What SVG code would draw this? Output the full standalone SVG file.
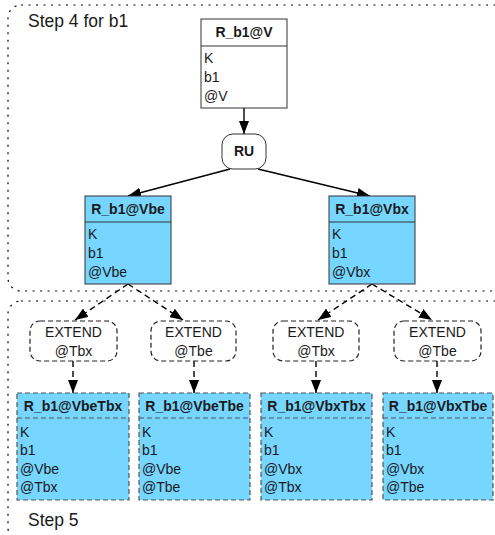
<svg xmlns="http://www.w3.org/2000/svg" width="495" height="535" viewBox="0 0 495 535">
<defs>
<marker id="ah" markerUnits="userSpaceOnUse" markerWidth="14" markerHeight="10" refX="13" refY="5" orient="auto">
<path d="M0,0 L13,5 L0,10 z" fill="#000"/>
</marker>
<style>
text{font-family:"Liberation Sans",Arial,sans-serif;font-size:14px;fill:#1a1a1a}
.b{font-weight:bold}
.c{text-anchor:middle}
.lbl{font-size:17.5px}
.cont{fill:none;stroke:#000;stroke-width:1.2;stroke-dasharray:2 5.5}
.solid{fill:#fff;stroke:#333;stroke-width:1}
.blue{fill:#76D6FF;stroke:#333;stroke-width:1}
.dblue{fill:#76D6FF;stroke:#555;stroke-width:1.2;stroke-dasharray:5 3}
.op{fill:#fff;stroke:#333;stroke-width:1}
.dop{fill:#fff;stroke:#222;stroke-width:1.2;stroke-dasharray:5 3}
.sep{stroke:#333;stroke-width:1}
.dsep{stroke:#555;stroke-width:1.2;stroke-dasharray:5 3}
.e{fill:none;stroke:#000;stroke-width:1.4;marker-end:url(#ah)}
.de{fill:none;stroke:#000;stroke-width:1.4;stroke-dasharray:6 4;marker-end:url(#ah)}
</style>
</defs>
<g id="step4">
<rect class="cont" x="8" y="5" width="520" height="286" rx="13"/>
<text class="lbl" x="28" y="27">Step 4 for b1</text>
</g>
<g id="step5">
<rect class="cont" x="8" y="301" width="520" height="240" rx="13"/>
<text class="lbl" x="28" y="526">Step 5</text>
</g>
<g id="connectors">
<line class="e" x1="244" y1="108" x2="244" y2="134"/>
<line class="e" x1="230" y1="169" x2="128" y2="196"/>
<line class="e" x1="258" y1="169" x2="370" y2="196"/>
<line class="de" x1="128" y1="284" x2="75" y2="320"/>
<line class="de" x1="128" y1="284" x2="183" y2="320"/>
<line class="de" x1="372" y1="284" x2="318" y2="320"/>
<line class="de" x1="372" y1="284" x2="432" y2="320"/>
<line class="de" x1="73" y1="361" x2="73" y2="393"/>
<line class="de" x1="194" y1="361" x2="194" y2="393"/>
<line class="de" x1="316" y1="361" x2="316" y2="393"/>
<line class="de" x1="437" y1="361" x2="437" y2="393"/>
</g>
<g id="R_b1_V">
<rect class="solid" x="201" y="19" width="86" height="89"/>
<line class="sep" x1="201" y1="46" x2="287" y2="46"/>
<text class="b c" x="244" y="37">R_b1@V</text>
<text x="204" y="63">K</text>
<text x="204" y="82">b1</text>
<text x="204" y="101">@V</text>
</g>
<g id="RU">
<rect class="op" x="222" y="134" width="44" height="35" rx="11"/>
<text class="b c" x="244" y="156">RU</text>
</g>
<g id="R_b1_Vbe">
<rect class="blue" x="85" y="196" width="86" height="88"/>
<line class="sep" x1="85" y1="222" x2="171" y2="222"/>
<text class="b c" x="128" y="214">R_b1@Vbe</text>
<text x="88" y="239">K</text>
<text x="88" y="258">b1</text>
<text x="88" y="277">@Vbe</text>
</g>
<g id="R_b1_Vbx">
<rect class="blue" x="329" y="196" width="86" height="88"/>
<line class="sep" x1="329" y1="222" x2="415" y2="222"/>
<text class="b c" x="372" y="214">R_b1@Vbx</text>
<text x="332" y="239">K</text>
<text x="332" y="258">b1</text>
<text x="332" y="277">@Vbx</text>
</g>
<g id="EXT1">
<rect class="dop" x="30" y="321" width="87" height="40" rx="10"/>
<text class="c" x="73.5" y="337">EXTEND</text>
<text class="c" x="73.5" y="356">@Tbx</text>
</g>
<g id="EXT2">
<rect class="dop" x="151" y="321" width="85" height="40" rx="10"/>
<text class="c" x="193.5" y="337">EXTEND</text>
<text class="c" x="193.5" y="356">@Tbe</text>
</g>
<g id="EXT3">
<rect class="dop" x="273" y="321" width="86" height="40" rx="10"/>
<text class="c" x="316" y="337">EXTEND</text>
<text class="c" x="316" y="356">@Tbx</text>
</g>
<g id="EXT4">
<rect class="dop" x="394" y="321" width="87" height="40" rx="10"/>
<text class="c" x="437.5" y="337">EXTEND</text>
<text class="c" x="437.5" y="356">@Tbe</text>
</g>
<g id="R_b1_VbeTbx">
<rect class="dblue" x="17" y="393" width="112" height="107"/>
<line class="dsep" x1="17" y1="418" x2="129" y2="418"/>
<text class="b c" x="73" y="411">R_b1@VbeTbx</text>
<text x="20" y="437">K</text>
<text x="20" y="455">b1</text>
<text x="20" y="474">@Vbe</text>
<text x="20" y="492">@Tbx</text>
</g>
<g id="R_b1_VbeTbe">
<rect class="dblue" x="139" y="393" width="111" height="107"/>
<line class="dsep" x1="139" y1="418" x2="250" y2="418"/>
<text class="b c" x="194.5" y="411">R_b1@VbeTbe</text>
<text x="142" y="437">K</text>
<text x="142" y="455">b1</text>
<text x="142" y="474">@Vbe</text>
<text x="142" y="492">@Tbe</text>
</g>
<g id="R_b1_VbxTbx">
<rect class="dblue" x="261" y="393" width="111" height="107"/>
<line class="dsep" x1="261" y1="418" x2="372" y2="418"/>
<text class="b c" x="316.5" y="411">R_b1@VbxTbx</text>
<text x="264" y="437">K</text>
<text x="264" y="455">b1</text>
<text x="264" y="474">@Vbx</text>
<text x="264" y="492">@Tbx</text>
</g>
<g id="R_b1_VbxTbe">
<rect class="dblue" x="383" y="393" width="110" height="107"/>
<line class="dsep" x1="383" y1="418" x2="493" y2="418"/>
<text class="b c" x="438" y="411">R_b1@VbxTbe</text>
<text x="386" y="437">K</text>
<text x="386" y="455">b1</text>
<text x="386" y="474">@Vbx</text>
<text x="386" y="492">@Tbe</text>
</g>
</svg>
